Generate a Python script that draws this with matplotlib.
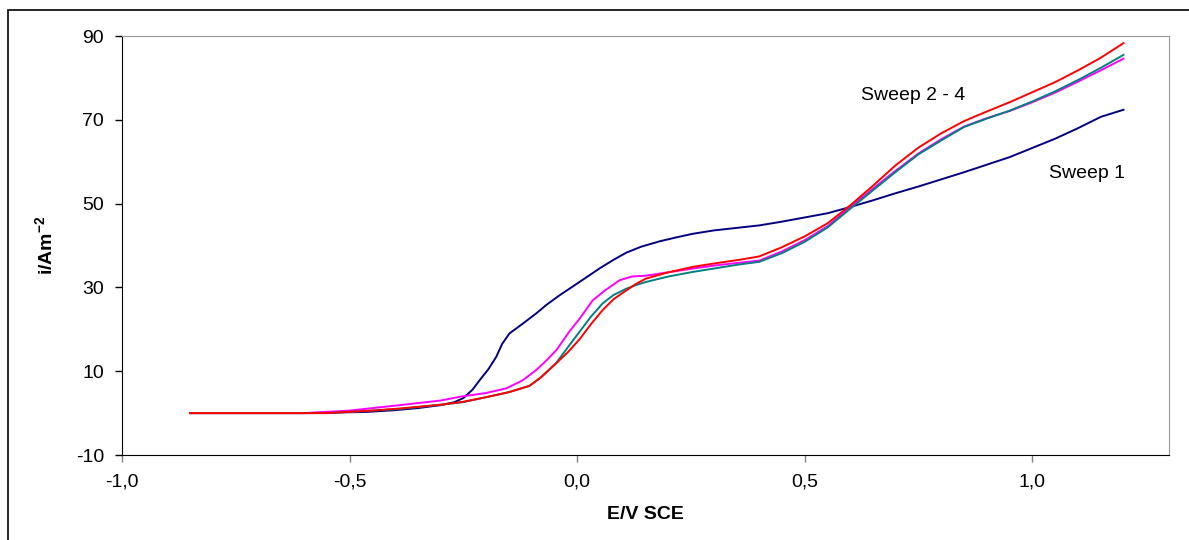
import matplotlib
matplotlib.use("Agg")
import matplotlib.pyplot as plt
from matplotlib.patches import Rectangle

# --- Data ---
sweep1_x = [-0.85, -0.60, -0.50, -0.46, -0.40, -0.35, -0.30, -0.27, -0.25, -0.23,
            -0.214, -0.195, -0.178, -0.165, -0.149, -0.119, -0.09, -0.068, -0.039, -0.01,
            0.02, 0.05, 0.08, 0.108, 0.14, 0.181, 0.22, 0.254, 0.30, 0.35,
            0.40, 0.45, 0.50, 0.55, 0.60, 0.65, 0.70, 0.75, 0.80, 0.85,
            0.90, 0.95, 1.00, 1.05, 1.10, 1.15, 1.20]
sweep1_y = [0.0, 0.0, 0.2, 0.3, 0.7, 1.2, 1.9, 2.6, 3.6, 5.6,
            7.9, 10.5, 13.4, 16.5, 19.0, 21.4, 23.8, 25.8, 28.1, 30.2,
            32.4, 34.6, 36.6, 38.3, 39.7, 41.0, 42.0, 42.8, 43.6, 44.2,
            44.8, 45.7, 46.7, 47.7, 49.2, 50.8, 52.5, 54.1, 55.8, 57.5,
            59.3, 61.1, 63.3, 65.5, 68.0, 70.7, 72.4]

magenta_x = [-0.85, -0.60, -0.50, -0.39, -0.30, -0.258, -0.20, -0.156, -0.12, -0.09,
             -0.07, -0.046, -0.017, 0.005, 0.034, 0.06, 0.093, 0.12, 0.151, 0.20,
             0.254, 0.30, 0.357, 0.40, 0.45, 0.50, 0.55, 0.60, 0.65, 0.70,
             0.75, 0.80, 0.85, 0.90, 0.95, 1.00, 1.05, 1.10, 1.15, 1.20]
magenta_y = [0.0, 0.0, 0.6, 1.9, 3.0, 3.9, 4.8, 5.9, 7.8, 10.3,
             12.3, 15.0, 19.5, 22.5, 26.9, 29.2, 31.7, 32.6, 32.8, 33.6,
             34.5, 35.2, 35.9, 36.4, 38.6, 41.3, 44.6, 49.2, 53.6, 57.9,
             62.0, 65.4, 68.4, 70.4, 72.1, 74.2, 76.5, 79.1, 81.8, 84.6]

teal_x = [-0.85, -0.55, -0.45, -0.39, -0.30, -0.251, -0.20, -0.15, -0.105, -0.08,
          -0.046, -0.02, 0.005, 0.03, 0.056, 0.08, 0.108, 0.13, 0.151, 0.20,
          0.254, 0.30, 0.357, 0.40, 0.45, 0.50, 0.55, 0.60, 0.65, 0.70,
          0.75, 0.80, 0.85, 0.90, 0.95, 1.00, 1.05, 1.10, 1.15, 1.20]
teal_y = [0.0, 0.0, 0.6, 1.0, 2.0, 2.6, 3.8, 5.0, 6.5, 8.5,
          12.0, 15.8, 19.4, 23.0, 26.2, 28.2, 29.7, 30.6, 31.3, 32.6,
          33.7, 34.5, 35.5, 36.1, 38.2, 40.9, 44.3, 48.8, 53.2, 57.6,
          61.8, 65.1, 68.3, 70.3, 72.2, 74.4, 76.8, 79.5, 82.4, 85.5]

red_x = [-0.85, -0.55, -0.45, -0.39, -0.30, -0.251, -0.20, -0.15, -0.105, -0.08,
         -0.046, -0.02, 0.005, 0.03, 0.056, 0.08, 0.108, 0.13, 0.151, 0.20,
         0.254, 0.30, 0.357, 0.40, 0.45, 0.50, 0.55, 0.60, 0.65, 0.70,
         0.75, 0.80, 0.85, 0.90, 0.95, 1.00, 1.05, 1.10, 1.15, 1.20]
red_y = [0.0, 0.0, 0.6, 1.1, 2.0, 2.7, 3.8, 5.0, 6.5, 8.5,
         11.9, 14.6, 17.6, 21.2, 24.6, 27.2, 29.3, 30.9, 32.1, 33.6,
         34.9, 35.7, 36.6, 37.4, 39.6, 42.2, 45.3, 49.6, 54.3, 59.2,
         63.4, 66.8, 69.7, 72.0, 74.2, 76.6, 79.0, 81.8, 84.8, 88.3]

x_ticks = [-1.0, -0.5, 0.0, 0.5, 1.0]
x_tick_labels = ["-1,0", "-0,5", "0,0", "0,5", "1,0"]
y_ticks = [-10, 10, 30, 50, 70, 90]

plt.rcParams['font.family'] = ['Liberation Sans', 'DejaVu Sans']
plt.rcParams['axes.unicode_minus'] = False
plt.rcParams['mathtext.fontset'] = 'custom'
plt.rcParams['mathtext.rm'] = 'Liberation Sans'
plt.rcParams['mathtext.bf'] = 'Liberation Sans:bold'

fig = plt.figure(figsize=(11.89, 5.40), dpi=100)
ax = fig.add_axes([0.1026, 0.1574, 0.8806, 0.7759])

lw = 1.4
ax.plot(sweep1_x, sweep1_y, color='#000080', linewidth=lw)
ax.plot(magenta_x, magenta_y, color='#FF00FF', linewidth=lw)
ax.plot(teal_x, teal_y, color='#008080', linewidth=lw)
ax.plot(red_x, red_y, color='#FF0000', linewidth=lw)

ax.set_xlim(-1.0, 1.3)
ax.set_ylim(-10, 90)
ax.set_xticks(x_ticks)
ax.set_xticklabels(x_tick_labels)
ax.set_yticks(y_ticks)
ax.tick_params(direction='out', length=5, width=1, labelsize=14, pad=8)
ax.tick_params(axis='x', colors='#808080', labelcolor='black')

for side in ['top', 'right']:
    ax.spines[side].set_color('#999999')
for side in ['left', 'bottom']:
    ax.spines[side].set_color('black')

ax.set_xlabel('E/V SCE', fontsize=14, fontweight='bold', va='center')
ax.xaxis.set_label_coords(0.5, -0.143)
ax.set_ylabel(r'$\mathbf{i/Am^{-2}}$', fontsize=14, va='center')
ax.yaxis.set_label_coords(-0.0735, 0.5)

ax.text(0.624, 75.8, 'Sweep 2 - 4', fontsize=14, va='center', ha='left')
ax.text(1.037, 57.2, 'Sweep 1', fontsize=14, va='center', ha='left')

# outer frame of the chart area
fig.add_artist(Rectangle((8 / 1189, -0.1), 1.2, 1 - 10 / 540 + 0.1,
                         transform=fig.transFigure, fill=False,
                         edgecolor='black', linewidth=1.2))

fig.savefig('out.png', dpi=100)
